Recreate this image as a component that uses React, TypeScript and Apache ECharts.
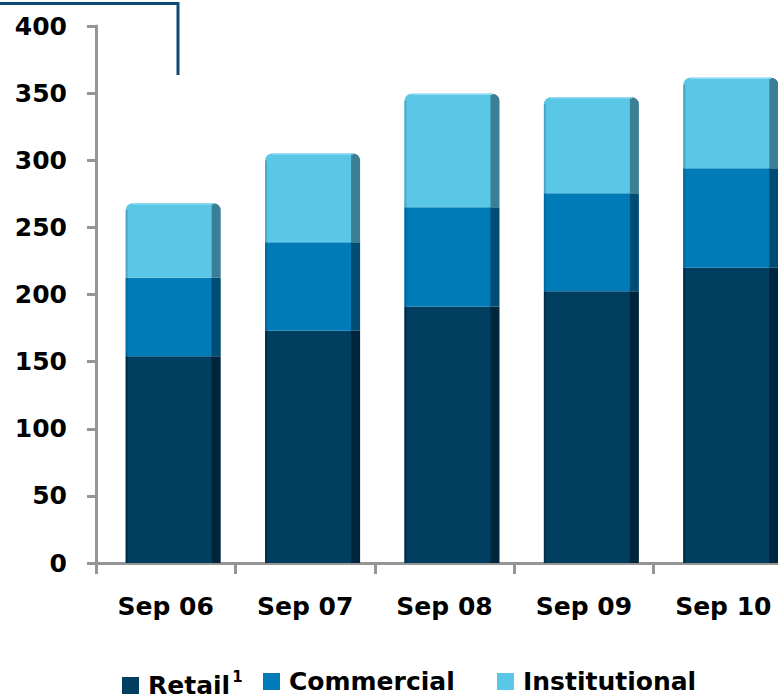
import React, { useEffect, useRef } from "react";
import * as echarts from "echarts";

const categories = ["Sep 06", "Sep 07", "Sep 08", "Sep 09", "Sep 10"];
const retail = [154, 173, 191, 202.5, 220];
const commercial = [58.5, 66, 74, 73, 74];
const institutional = [55.5, 66, 84.5, 71.5, 67.5];
const seriesNames = ["Retail", "Commercial", "Institutional"];
const yMin = 0;
const yMax = 400;
const yInterval = 50;

const faceColors = ["#013e60", "#017bb7", "#5bc7e7"];
const sideColors = ["#00263d", "#004c72", "#3a7f95"];
const edgeColors = ["#012f4a", "#016a9e", "#4aa8c4"];

const FONT = "DejaVu Sans";

export default function App() {
  const ref = useRef<HTMLDivElement>(null);

  useEffect(() => {
    if (!ref.current) return;
    const chart = echarts.init(ref.current, null, { renderer: "svg" });

    const layers = [retail, commercial, institutional];
    const series = layers.map((arr, k) => {
      const data = arr.map((v, i) => {
        let base = 0;
        for (let j = 0; j < k; j++) base += layers[j][i];
        return [i, base, base + v];
      });
      const isTop = k === layers.length - 1;
      return {
        type: "custom",
        name: seriesNames[k],
        itemStyle: { color: faceColors[k] },
        encode: { x: 0, y: [1, 2] },
        data,
        renderItem: (params: any, api: any) => {
          const i = api.value(0);
          const b = api.value(1);
          const t = api.value(2);
          const p0 = api.coord([i, b]);
          const p1 = api.coord([i, t]);
          const cx = p0[0];
          const yB = p0[1];
          const yT = p1[1];
          const faceL = cx - 40;
          const faceW = 86;
          const sideW = 9;
          const r = isTop ? 7 : 0;
          const h = yB - yT;
          const children: any[] = [
            {
              type: "rect",
              shape: { x: faceL + faceW - 1, y: yT, width: sideW + 1, height: h, r: [0, r, 0, 0] },
              style: { fill: sideColors[k] },
            },
            {
              type: "rect",
              shape: { x: faceL, y: yT, width: faceW, height: h, r: [r, 0, 0, 0] },
              style: { fill: faceColors[k] },
            },
            {
              type: "rect",
              shape: { x: faceL, y: yT + r, width: 2, height: Math.max(0, h - r) },
              style: { fill: edgeColors[k] },
            },
          ];
          if (isTop) {
            children.push({
              type: "line",
              shape: { x1: faceL + r, y1: yT + 0.5, x2: faceL + faceW + sideW - r, y2: yT + 0.5 },
              style: { stroke: "#8fdcf2", lineWidth: 1.5 },
            });
          }
          return { type: "group", children };
        },
      };
    });

    const legendBase = {
      orient: "horizontal",
      top: 669,
      padding: 0,
      itemWidth: 17,
      itemHeight: 17,
      icon: "rect",
      selectedMode: false,
      textStyle: {
        fontFamily: FONT,
        fontSize: 25,
        fontWeight: "bold",
        color: "#000",
        padding: [0, 0, 0, 4],
      },
    };

    chart.setOption({
      animation: false,
      backgroundColor: "#ffffff",
      grid: { left: 96, top: 26, width: 697, height: 537, containLabel: false },
      xAxis: {
        type: "category",
        data: categories,
        boundaryGap: true,
        axisLine: { show: true, lineStyle: { color: "#959595", width: 3 } },
        axisTick: { show: true, length: 11, lineStyle: { color: "#959595", width: 3 } },
        axisLabel: {
          margin: 31,
          fontFamily: FONT,
          fontSize: 25,
          fontWeight: "bold",
          color: "#000",
        },
        splitLine: { show: false },
      },
      yAxis: {
        type: "value",
        min: yMin,
        max: yMax,
        interval: yInterval,
        axisLine: { show: true, lineStyle: { color: "#959595", width: 3 } },
        axisTick: { show: true, length: 9, lineStyle: { color: "#959595", width: 3 } },
        axisLabel: {
          margin: 29,
          fontFamily: FONT,
          fontSize: 25,
          fontWeight: "bold",
          color: "#000",
        },
        splitLine: { show: false },
      },
      legend: [
        {
          ...legendBase,
          left: 122,
          data: [{ name: "Retail" }],
          formatter: () => "{a|Retail}{s|1}",
          textStyle: {
            ...legendBase.textStyle,
            rich: {
              a: { fontFamily: FONT, fontSize: 25, fontWeight: "bold", color: "#000" },
              s: { fontFamily: FONT, fontSize: 15, color: "#000", padding: [0, 0, 18, 2] },
            },
          },
        },
        { ...legendBase, left: 263, data: [{ name: "Commercial" }] },
        { ...legendBase, left: 497, data: [{ name: "Institutional" }] },
      ],
      graphic: [
        {
          type: "polyline",
          shape: { points: [[0, 3.5], [178, 3.5], [178, 75]] },
          style: { stroke: "#0c4a73", lineWidth: 3, fill: "none" },
        },
      ],
      series,
    });

    return () => chart.dispose();
  }, []);

  return (
    <div
      style={{
        position: "fixed",
        left: 0,
        top: 0,
        width: 778,
        height: 699,
        overflow: "hidden",
        background: "#fff",
      }}
    >
      <div ref={ref} style={{ width: 800, height: 699 }} />
    </div>
  );
}
